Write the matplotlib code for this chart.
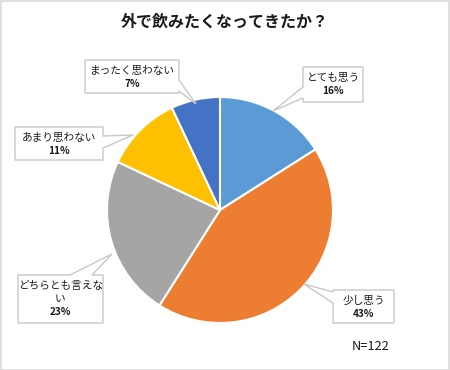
import matplotlib
matplotlib.use("Agg")
import matplotlib.pyplot as plt
from matplotlib.patches import Polygon, Rectangle

plt.rcParams['font.family'] = ['Noto Sans CJK JP', 'DejaVu Sans']

title = "外で飲みたくなってきたか？"
categories = ["とても思う", "少し思う", "どちらとも言えない", "あまり思わない", "まったく思わない"]
label_texts = ["とても思う", "少し思う", "どちらとも言えな\nい", "あまり思わない", "まったく思わない"]
values = [16, 43, 23, 11, 7]
colors = ["#5B9BD5", "#ED7D31", "#A5A5A5", "#FFC000", "#4472C4"]
note = "N=122"

W, H = 450, 370
fig = plt.figure(figsize=(4.5, 3.7), dpi=100)
ax = fig.add_axes([0, 0, 1, 1])

def Y(y):
    return H - y

cx, cy, r = 220, 210, 113
ax.pie(values, colors=colors, startangle=90, counterclock=False,
       center=(cx, Y(cy)), radius=r,
       wedgeprops=dict(edgecolor="white", linewidth=1.5))
ax.set_xlim(0, W)
ax.set_ylim(0, H)
ax.set_aspect("auto")
ax.axis("off")

# callout layout: box (x0,y0,x1,y1) in top-origin pixels, side, base (a,b), tip
callouts = [
    ((303, 67, 363, 102), "left", (87, 98), (273, 111)),
    ((333, 290, 394, 323), "left", (292, 303), (304, 284)),
    ((18, 275, 103, 323), "top", (70, 92), (112, 254)),
    ((15, 127, 103, 160), "right", (136, 148), (133, 135)),
    ((85, 60, 179, 93), "right", (80, 91), (196, 104)),
]

def callout_poly(box, side, base, tip):
    x0, y0, x1, y1 = box
    a, b = base
    pts = [(x0, y0)]
    if side == "top":
        pts += [(a, y0), tip, (b, y0)]
    pts += [(x1, y0)]
    if side == "right":
        pts += [(x1, a), tip, (x1, b)]
    pts += [(x1, y1)]
    if side == "bottom":
        pts += [(b, y1), tip, (a, y1)]
    pts += [(x0, y1)]
    if side == "left":
        pts += [(x0, b), tip, (x0, a)]
    return [(px, Y(py)) for px, py in pts]

txt_color = "#1a1a1a"
for (box, side, base, tip), lab, val in zip(callouts, label_texts, values):
    poly = Polygon(callout_poly(box, side, base, tip), closed=True,
                   facecolor="white", edgecolor="#C8C8C8", linewidth=1.0, zorder=5)
    ax.add_patch(poly)
    x0, y0, x1, y1 = box
    xm = (x0 + x1) / 2
    lines = lab.split("\n")
    for i, ln in enumerate(lines):
        ax.text(xm, Y(y0 + 11 + 13 * i), ln, ha="center", va="center", fontsize=7.7,
                color=txt_color, zorder=6)
    ax.text(xm, Y(y0 + 11 + 13 * len(lines)), f"{val}%", ha="center", va="center",
            fontsize=7.2, fontweight="bold", color=txt_color, zorder=6)

ax.text(225, Y(22), title, ha="center", va="center", fontsize=11.5,
        fontweight="bold", color=txt_color)
ax.text(371, Y(347), note, ha="center", va="center", fontsize=9.2, color=txt_color)

ax.add_patch(Rectangle((0.5, 0.5), W - 1.5, H - 1.5, fill=False,
                       edgecolor="#D9D9D9", linewidth=1.2, zorder=10))

fig.savefig("out.png", dpi=100)
